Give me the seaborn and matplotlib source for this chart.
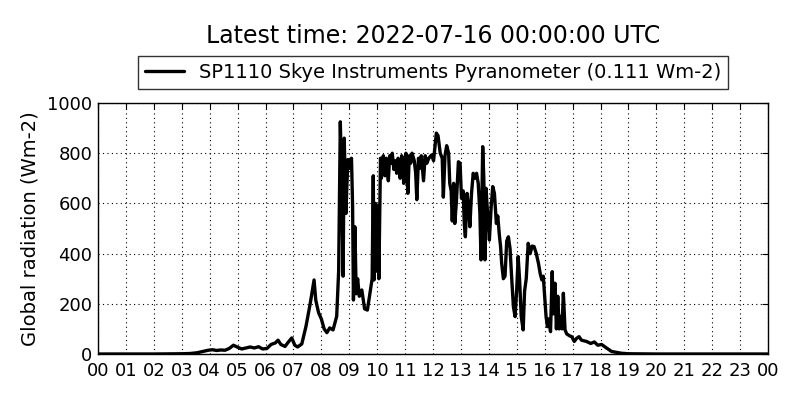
import pandas as pd
import matplotlib
matplotlib.use("Agg")
import matplotlib.pyplot as plt
import seaborn as sns

# Hours since midnight (UTC) and global radiation (Wm-2)
hours = [
    0.0, 1.0, 2.0, 3.0, 3.3, 3.55, 3.75, 3.95, 4.1, 4.25, 4.4, 4.55, 4.7, 4.85,
    5.0, 5.15, 5.3, 5.45, 5.6, 5.75, 5.9, 6.05, 6.2, 6.35, 6.45, 6.55, 6.7, 6.8,
    6.94, 7.05, 7.15, 7.3, 7.45, 7.6, 7.74, 7.8, 7.9, 8.0, 8.1, 8.2, 8.3, 8.42,
    8.55, 8.62, 8.68, 8.74, 8.78, 8.82, 8.88, 8.95, 9.02, 9.08, 9.12, 9.15, 9.2,
    9.25, 9.3, 9.36, 9.45, 9.55, 9.65, 9.75, 9.82, 9.86, 9.89, 9.94, 9.99, 10.03,
    10.06, 10.12, 10.15, 10.17, 10.22, 10.25, 10.28, 10.33, 10.37, 10.4, 10.45,
    10.5, 10.54, 10.6, 10.65, 10.7, 10.75, 10.79, 10.82, 10.88, 10.92, 10.95,
    11.0, 11.03, 11.1, 11.15, 11.2, 11.25, 11.33, 11.38, 11.42, 11.48, 11.53,
    11.58, 11.66, 11.72, 11.78, 11.85, 11.95, 12.02, 12.12, 12.18, 12.26, 12.33,
    12.37, 12.43, 12.49, 12.56, 12.6, 12.65, 12.69, 12.74, 12.78, 12.84, 12.91,
    12.97, 13.02, 13.08, 13.12, 13.16, 13.22, 13.28, 13.32, 13.38, 13.44, 13.5,
    13.56, 13.62, 13.68, 13.72, 13.78, 13.82, 13.86, 13.9, 13.96, 14.02, 14.08,
    14.14, 14.2, 14.27, 14.32, 14.38, 14.42, 14.46, 14.52, 14.58, 14.64, 14.7,
    14.76, 14.82, 14.88, 14.94, 15.0, 15.05, 15.1, 15.16, 15.23, 15.28, 15.34,
    15.41, 15.48, 15.55, 15.62, 15.7, 15.78, 15.84, 15.9, 15.95, 16.05, 16.1,
    16.15, 16.21, 16.27, 16.31, 16.37, 16.42, 16.47, 16.52, 16.56, 16.62, 16.67,
    16.73, 16.79, 16.9, 16.97, 17.06, 17.14, 17.23, 17.32, 17.5, 17.65, 17.78,
    17.9, 18.04, 18.2, 18.4, 18.75, 19.0, 20.0, 24.0,
]
radiation = [
    0, 0, 0, 1, 2, 5, 10, 15, 17, 14, 16, 15, 22, 35,
    27, 20, 24, 28, 24, 29, 20, 22, 38, 44, 55, 38, 30, 45,
    64, 35, 28, 40, 110, 200, 295, 215, 165, 140, 100, 85, 104, 96,
    150, 330, 925, 620, 310, 860, 560, 775, 740, 780, 590, 215, 507,
    240, 300, 230, 255, 180, 175, 250, 300, 710, 295, 600, 330, 590,
    300, 780, 700, 720, 790, 740, 710, 780, 730, 690, 790,
    760, 800, 735, 770, 720, 780, 750, 700, 790, 740, 680,
    770, 800, 640, 790, 760, 800, 770, 720, 615, 780, 740,
    790, 690, 790, 760, 780, 793, 770, 880, 870, 800, 780,
    625, 790, 830, 800, 680, 650, 530, 680, 520, 610, 766,
    760, 620, 650, 520, 467, 640, 580, 507, 640, 720, 700,
    720, 680, 560, 375, 826, 700, 375, 660, 550, 454, 580,
    667, 640, 520, 550, 470, 430, 361, 300, 310, 450, 467,
    420, 300, 189, 149, 260, 388, 300, 150, 96, 250, 300,
    441, 400, 430, 428, 400, 360, 320, 295, 310, 149, 109,
    140, 89, 328, 160, 282, 100, 230, 100, 150, 100, 242,
    96, 80, 72, 69, 50, 62, 69, 55, 50, 42, 48,
    35, 38, 25, 10, 3, 1, 0, 0,
]
hour_labels = [f"{h % 24:02d}" for h in range(25)]
y_ticks = [0, 200, 400, 600, 800, 1000]
series_name = "SP1110 Skye Instruments Pyranometer (0.111 Wm-2)"
title = "Latest time: 2022-07-16 00:00:00 UTC"

df = pd.DataFrame({"hour": hours, "radiation": radiation})

sns.set_style("white")
plt.rcParams["font.family"] = ["DejaVu Sans"]
plt.rcParams["text.color"] = "black"
plt.rcParams["axes.labelcolor"] = "black"
plt.rcParams["xtick.color"] = "black"
plt.rcParams["ytick.color"] = "black"
plt.rcParams["xtick.direction"] = "in"
plt.rcParams["ytick.direction"] = "in"

fig = plt.figure(figsize=(8, 4), dpi=100)
ax = fig.add_axes([0.1225, 0.115, 0.8375, 0.6275])

sns.lineplot(data=df, x="hour", y="radiation", ax=ax, color="black",
             linewidth=2.4, label=series_name)

ax.set_xlim(0, 24)
ax.set_ylim(0, 1000)
ax.set_xticks(range(25))
ax.set_xticklabels(hour_labels)
ax.set_yticks(y_ticks)
ax.tick_params(axis="both", labelsize=13, length=4, width=0.8, color="black",
               top=True, right=True)
ax.tick_params(axis="x", pad=5.5)
ax.tick_params(axis="y", pad=4)
ax.grid(True, linestyle=(0, (1, 3)), color="black", linewidth=0.8)
for sp in ax.spines.values():
    sp.set_color("black")
    sp.set_linewidth(1)

ax.set_xlabel("")
ax.set_ylabel("Global radiation (Wm-2)", fontsize=14)
ax.yaxis.set_label_coords(-0.088, 0.5)

leg = ax.legend(loc="lower center", bbox_to_anchor=(0.5, 1.056), fontsize=14,
                fancybox=False, frameon=True, borderpad=0.35, handlelength=2,
                borderaxespad=0)
leg.get_frame().set_edgecolor("black")
leg.get_frame().set_linewidth(1)

# title is centred over the axes, not the whole figure
fig.suptitle(title, fontsize=17, x=0.541, y=0.91, va="center")

fig.savefig("out.png", dpi=100)
